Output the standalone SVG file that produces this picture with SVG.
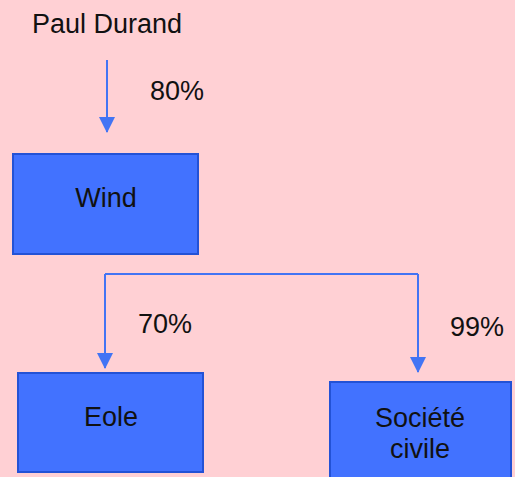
<svg xmlns="http://www.w3.org/2000/svg" width="515" height="477" viewBox="0 0 515 477">
<defs>
<marker id="ah" viewBox="0 0 16 16" refX="15" refY="8" markerWidth="16" markerHeight="16" markerUnits="userSpaceOnUse" orient="auto">
<path d="M0,0 L16,8 L0,16 Z" fill="#4274F4"/>
</marker>
<style>
text{font-family:"Liberation Sans",Arial,sans-serif;font-size:27px;fill:#111}
.box{fill:#4272FF;stroke:#2352D6;stroke-width:2}
.c{fill:none;stroke:#4274F4;stroke-width:2}
</style>
</defs>
<rect width="515" height="477" fill="#FFD0D4"/>
<g id="paul"><text x="107" y="33" text-anchor="middle">Paul Durand</text></g>
<g id="wind"><rect class="box" x="13" y="154" width="185" height="100"/><text x="106" y="207" text-anchor="middle">Wind</text></g>
<g id="eole"><rect class="box" x="18" y="373" width="185" height="99"/><text x="111" y="426" text-anchor="middle">Eole</text></g>
<g id="societe"><rect class="box" x="330" y="382" width="181" height="100"/><text x="420" y="427" text-anchor="middle">Société</text><text x="420" y="458" text-anchor="middle">civile</text></g>
<g id="connectors">
<line class="c" x1="107" y1="60" x2="107" y2="132" marker-end="url(#ah)"/>
<path class="c" d="M105,274 H418"/>
<path class="c" d="M105,274 V368" marker-end="url(#ah)"/>
<path class="c" d="M418,274 V372" marker-end="url(#ah)"/>
</g>
<g id="labels">
<text x="150" y="100">80%</text>
<text x="138" y="333">70%</text>
<text x="450" y="336">99%</text>
</g>
</svg>
